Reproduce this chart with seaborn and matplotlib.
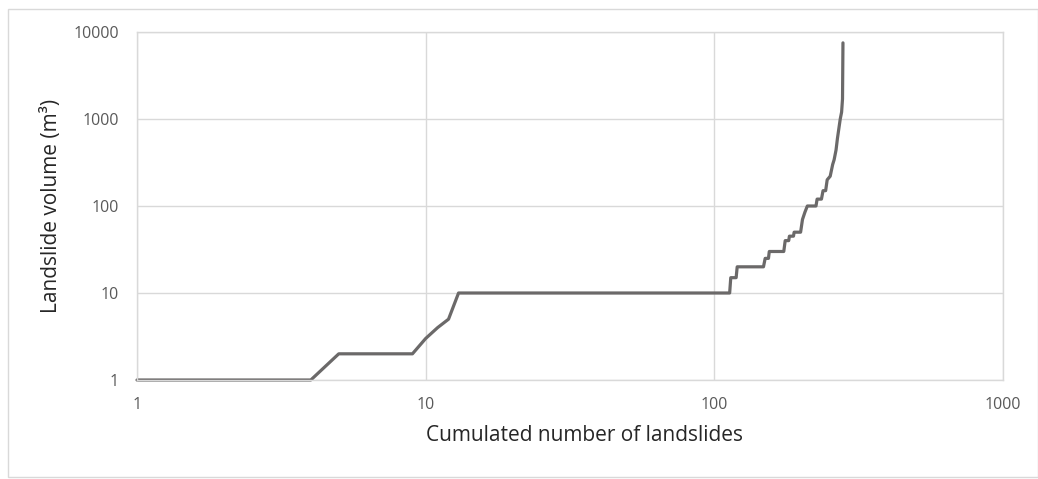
import matplotlib
matplotlib.use("Agg")
import matplotlib.pyplot as plt
from matplotlib.patches import Rectangle
import seaborn as sns

# corner points of the cumulative curve (rank, volume)
ranks = [1, 4, 5, 9, 10, 11, 12, 13, 113, 114, 119, 120, 148, 150, 154, 155,
         174, 176, 181, 182, 188, 189, 199, 202, 206, 210, 225, 227, 235, 238,
         243, 246, 252, 257, 260, 264, 267, 273, 276, 278, 279]
volumes = [1, 1, 2, 2, 3, 4, 5, 10, 10, 15, 15, 20, 20, 25, 25, 30,
           30, 40, 40, 45, 45, 50, 50, 70, 85, 100, 100, 120, 120, 150,
           150, 200, 220, 300, 340, 440, 600, 1000, 1200, 1700, 7500]

x_ticks = [1, 10, 100, 1000]
y_ticks = [1, 10, 100, 1000, 10000]

sns.set_theme(style="whitegrid")
plt.rcParams["font.family"] = ["Open Sans", "DejaVu Sans"]

fig = plt.figure(figsize=(10.38, 4.79), dpi=100)
ax = fig.add_axes([137 / 1038, 1 - 380 / 479, 866 / 1038, 348 / 479])

sns.lineplot(x=ranks, y=volumes, ax=ax, color="#6b6969", linewidth=2.3,
             sort=False, estimator=None, clip_on=False)

ax.set_xscale("log")
ax.set_yscale("log")
ax.set_xlim(1, 1000)
ax.set_ylim(1, 10000)
ax.set_xticks(x_ticks)
ax.set_xticklabels([str(v) for v in x_ticks])
ax.set_yticks(y_ticks)
ax.set_yticklabels([str(v) for v in y_ticks])
ax.minorticks_off()
ax.tick_params(axis="both", length=0, labelsize=11.5, labelcolor="#595959")
ax.tick_params(axis="y", pad=13)
ax.tick_params(axis="x", pad=12)
ax.grid(True, color="#d9d9d9", linewidth=1)
for s in ax.spines.values():
    s.set_color("#d9d9d9")
    s.set_linewidth(1)

ax.set_xlabel("Cumulated number of landslides", fontsize=15, color="#262626")
ax.set_ylabel("Landslide volume (m³)", fontsize=15, color="#262626", va="center")
ax.xaxis.set_label_coords((585 - 137) / 866, (380 - 425) / 348)
ax.yaxis.set_label_coords((52 - 137) / 866, 0.5)

fig.patches.append(Rectangle((7.5 / 1038, 1 - 477 / 479), 1 - 7.5 / 1038, (477 - 8.5) / 479,
                             transform=fig.transFigure, fill=False,
                             edgecolor="#d9d9d9", linewidth=1))

fig.savefig("out.png", dpi=100, facecolor="white")
